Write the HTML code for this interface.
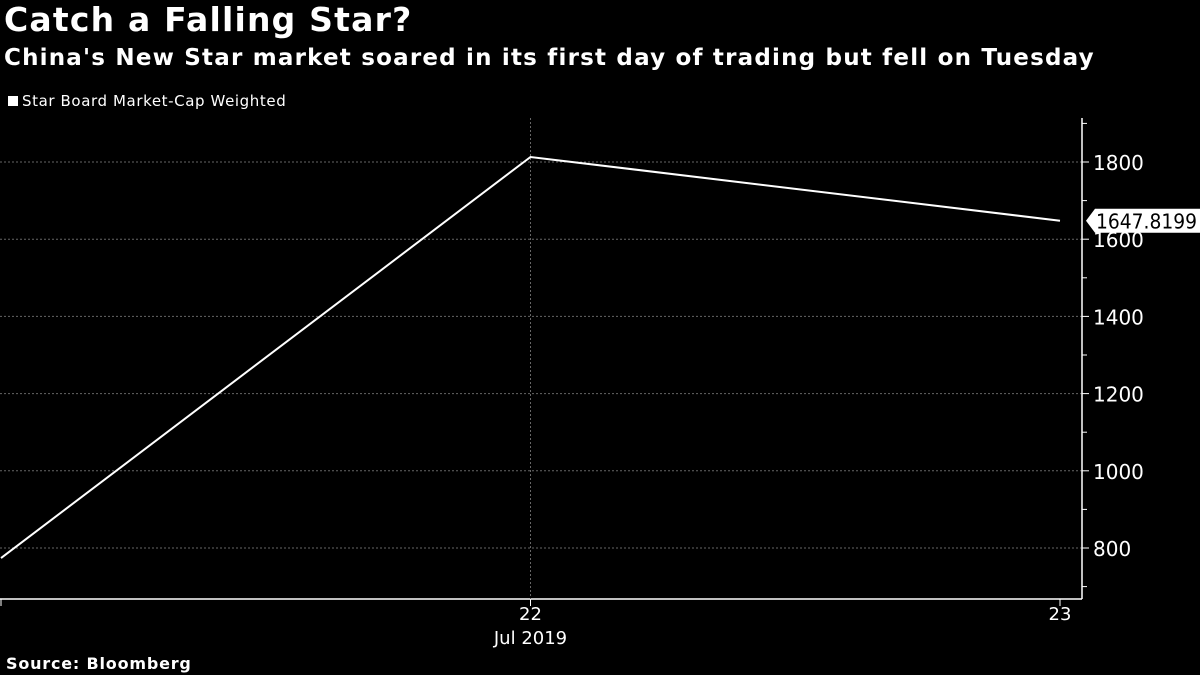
<!DOCTYPE html>
<html><head><meta charset="utf-8"><style>
body{margin:0;background:#000;width:1200px;height:675px;overflow:hidden;font-family:"DejaVu Sans","Liberation Sans",sans-serif;color:#fff}
.t{position:absolute;left:4px;white-space:nowrap}
</style></head><body>
<div class="t" style="top:0px;font-size:33px;font-weight:bold;letter-spacing:1.2px">Catch a Falling Star?</div>
<div class="t" style="top:45px;font-size:23px;font-weight:bold;letter-spacing:1.2px">China's New Star market soared in its first day of trading but fell on Tuesday</div>
<div class="t" style="top:92px;left:8px;font-size:15px;letter-spacing:0.6px"><span style="display:inline-block;width:10px;height:10px;background:#fff;margin-right:4px"></span>Star Board Market-Cap Weighted</div>
<div class="t" style="top:654px;left:6px;font-size:16px;font-weight:bold;letter-spacing:0.8px">Source: Bloomberg</div>
<svg id="c" width="1200" height="675" style="position:absolute;left:0;top:0"></svg>
<script>
const dates=["21","22","23"];
const values=[774,1813,1647.8199];
const yTicks=[800,1000,1200,1400,1600,1800];
const xLabels=["22","23"];
const NS="http://www.w3.org/2000/svg",s=document.getElementById('c');
const y=v=>548-(v-800)*0.386, x=i=>1+i*529.5;
function el(t,a){const e=document.createElementNS(NS,t);for(const k in a)e.setAttribute(k,a[k]);s.appendChild(e);return e;}
yTicks.forEach(v=>{
 const g=el('line',{x1:0,x2:1082,y1:y(v),y2:y(v),stroke:'#666','stroke-dasharray':'2,2','stroke-width':1});
 
 el('line',{x1:1082,x2:1089,y1:y(v),y2:y(v),stroke:'#fff'});
 const t=el('text',{x:1093,y:y(v)+8,fill:'#fff','font-size':20,'font-family':'DejaVu Sans, Liberation Sans, sans-serif'});t.textContent=v;
 
});
[700,900,1100,1300,1500,1700,1900].forEach(v=>{if(y(v)>118)el('line',{x1:1082,x2:1087,y1:y(v),y2:y(v),stroke:'#fff'});});
el('line',{x1:1082,x2:1082,y1:118,y2:599,stroke:'#fff','stroke-width':1.5});
el('line',{x1:0,x2:1082,y1:599,y2:599,stroke:'#fff','stroke-width':1.5});
el('line',{x1:x(1),x2:x(1),y1:118,y2:599,stroke:'#666','stroke-dasharray':'2,2'});
xLabels.forEach((l,i)=>{const xi=x(i+1);el('line',{x1:xi,x2:xi,y1:599,y2:606,stroke:'#fff'});
 const t=el('text',{x:xi,y:620,fill:'#fff','font-size':18,'text-anchor':'middle','font-family':'DejaVu Sans, Liberation Sans, sans-serif'});t.textContent=l;
 });
el('line',{x1:1,x2:1,y1:599,y2:606,stroke:'#fff'});
const m=el('text',{x:x(1),y:644,fill:'#fff','font-size':18,'text-anchor':'middle','font-family':'DejaVu Sans, Liberation Sans, sans-serif'});m.textContent='Jul 2019';

const p=el('polyline',{points:values.map((v,i)=>x(i)+','+y(v)).join(' '),fill:'none',stroke:'#fff','stroke-width':2});

const lv=values[values.length-1],ly=y(lv);
const tag=el('path',{d:`M1086 ${ly} L1095 ${ly-12} L1200 ${ly-12} L1200 ${ly+12} L1095 ${ly+12} Z`,fill:'#fff'});

const lt=el('text',{x:1096,y:ly+8,fill:'#000','font-size':20,textLength:101,lengthAdjust:'spacingAndGlyphs','font-family':'DejaVu Sans, Liberation Sans, sans-serif'});lt.textContent=lv.toFixed(4);

</script>
</body></html>
